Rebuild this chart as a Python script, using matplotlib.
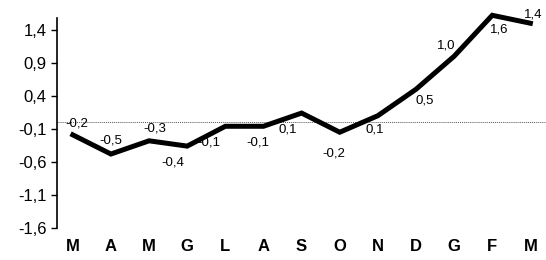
import matplotlib.pyplot as plt

plt.rcParams['font.family'] = ['Liberation Sans Narrow', 'Liberation Sans', 'DejaVu Sans']

months = ['M', 'A', 'M', 'G', 'L', 'A', 'S', 'O', 'N', 'D', 'G', 'F', 'M']
values = [-0.19, -0.48, -0.28, -0.36, -0.06, -0.06, 0.14, -0.15, 0.10, 0.50, 1.00, 1.62, 1.50]
labels = ['-0,2', '-0,5', '-0,3', '-0,4', '-0,1', '-0,1', '0,1', '-0,2', '0,1', '0,5', '1,0', '1,6', '1,4']
# label offsets in points (dx, dy)
offsets = [(3, 8), (0, 10), (4, 9), (-10, -12), (-12, -12), (-4, -12), (-10, -12),
           (-4, -15), (-2, -10), (6, -8), (-6, 8), (5, -10), (2, 6)]
yticks = [1.4, 0.9, 0.4, -0.1, -0.6, -1.1, -1.6]

fig = plt.figure(figsize=(5.46, 2.6), dpi=100)
ax = fig.add_axes([0.104, 0.123, 0.896, 0.808])

x = list(range(len(months)))
ax.axhline(0, color='#555555', linewidth=0.7, linestyle=(0, (1, 1)))
ax.plot(x, values, color='black', linewidth=3.6, solid_joinstyle='miter', clip_on=False)

for xi, v, lab, (dx, dy) in zip(x, values, labels, offsets):
    ax.annotate(lab, (xi, v), xytext=(dx, dy), textcoords='offset points',
                ha='center', va='center', fontsize=9.5, zorder=5,
                annotation_clip=False)

ax.set_xlim(-0.42, 12.41)
ax.set_ylim(-1.6, 1.58)
ax.set_yticks(yticks)
ax.set_yticklabels([f'{t:.1f}'.replace('.', ',') for t in yticks], fontsize=12)
ax.set_xticks(x)
ax.set_xticklabels(months, fontsize=12, fontweight='bold')
ax.tick_params(axis='x', length=0, pad=8)
ax.tick_params(axis='y', length=4, width=1, direction='out')

for s in ['top', 'right', 'bottom']:
    ax.spines[s].set_visible(False)
ax.spines['left'].set_linewidth(1.2)

fig.savefig('out.png', dpi=100)
